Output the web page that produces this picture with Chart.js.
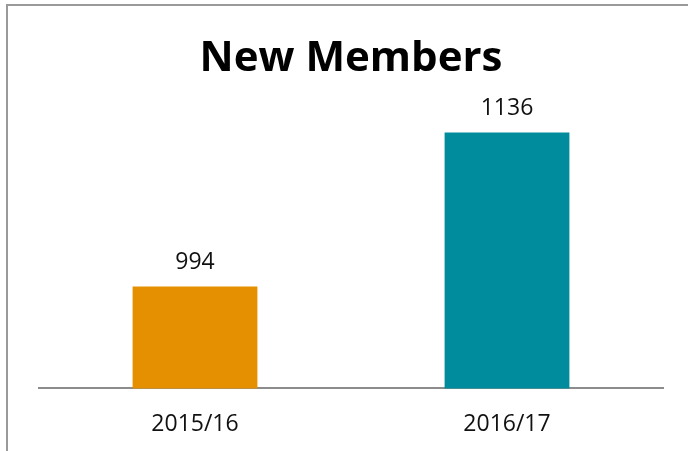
<!DOCTYPE html>
<html>
<head>
<meta charset="utf-8">
<script src="https://cdn.jsdelivr.net/npm/chart.js@4"></script>
<style>
    html, body { margin: 0; padding: 0; background: #fff; overflow: hidden; }
    #wrap { position: relative; width: 688px; height: 451px; }
    #frame {
        position: absolute; left: 6px; top: 4px; width: 720px; height: 520px;
        border: 2px solid #9a9a9a; pointer-events: none;
    }
</style>
</head>
<body>
<div id="wrap">
    <canvas id="membersChart" width="688" height="451"></canvas>
    <div id="frame"></div>
</div>
<script>
// Chart data
const categories = ['2015/16', '2016/17'];
const newMembers = [994, 1136];
const barColors = ['#E59000', '#008C9C'];

// Value labels above each bar
const barValueLabels = {
    id: 'barValueLabels',
    afterDatasetsDraw(chart) {
        const ctx = chart.ctx;
        const meta = chart.getDatasetMeta(0);
        ctx.save();
        ctx.font = '23px "Open Sans", sans-serif';
        ctx.fillStyle = '#111';
        ctx.textAlign = 'center';
        ctx.textBaseline = 'alphabetic';
        meta.data.forEach((bar, i) => {
            ctx.fillText(String(newMembers[i]), bar.x, bar.y - 18);
        });
        ctx.restore();
    }
};

document.addEventListener('DOMContentLoaded', () => {
    const ctx = document.getElementById('membersChart').getContext('2d');

    new Chart(ctx, {
        type: 'bar',
        data: {
            labels: categories,
            datasets: [{
                label: 'New Members',
                data: newMembers,
                backgroundColor: barColors,
                borderWidth: 0,
                categoryPercentage: 0.8,
                barPercentage: 0.5
            }]
        },
        options: {
            responsive: false,
            animation: false,
            layout: {
                padding: { left: 39, right: 25, top: 0, bottom: -9 }
            },
            plugins: {
                legend: { display: false },
                tooltip: { enabled: false },
                title: {
                    display: true,
                    text: 'New Members',
                    color: '#000',
                    font: { family: '"Open Sans", sans-serif', size: 42, weight: 'bold', lineHeight: 1.2 },
                    padding: { top: 34, bottom: 33 }
                }
            },
            scales: {
                y: {
                    display: false,
                    min: 900,
                    max: 1150
                },
                x: {
                    grid: { display: false, drawTicks: false },
                    border: { display: true, color: '#8c8c8c', width: 2 },
                    ticks: {
                        color: '#111',
                        padding: 22,
                        font: { family: '"Open Sans", sans-serif', size: 23 }
                    }
                }
            }
        },
        plugins: [barValueLabels]
    });
});
</script>
</body>
</html>
